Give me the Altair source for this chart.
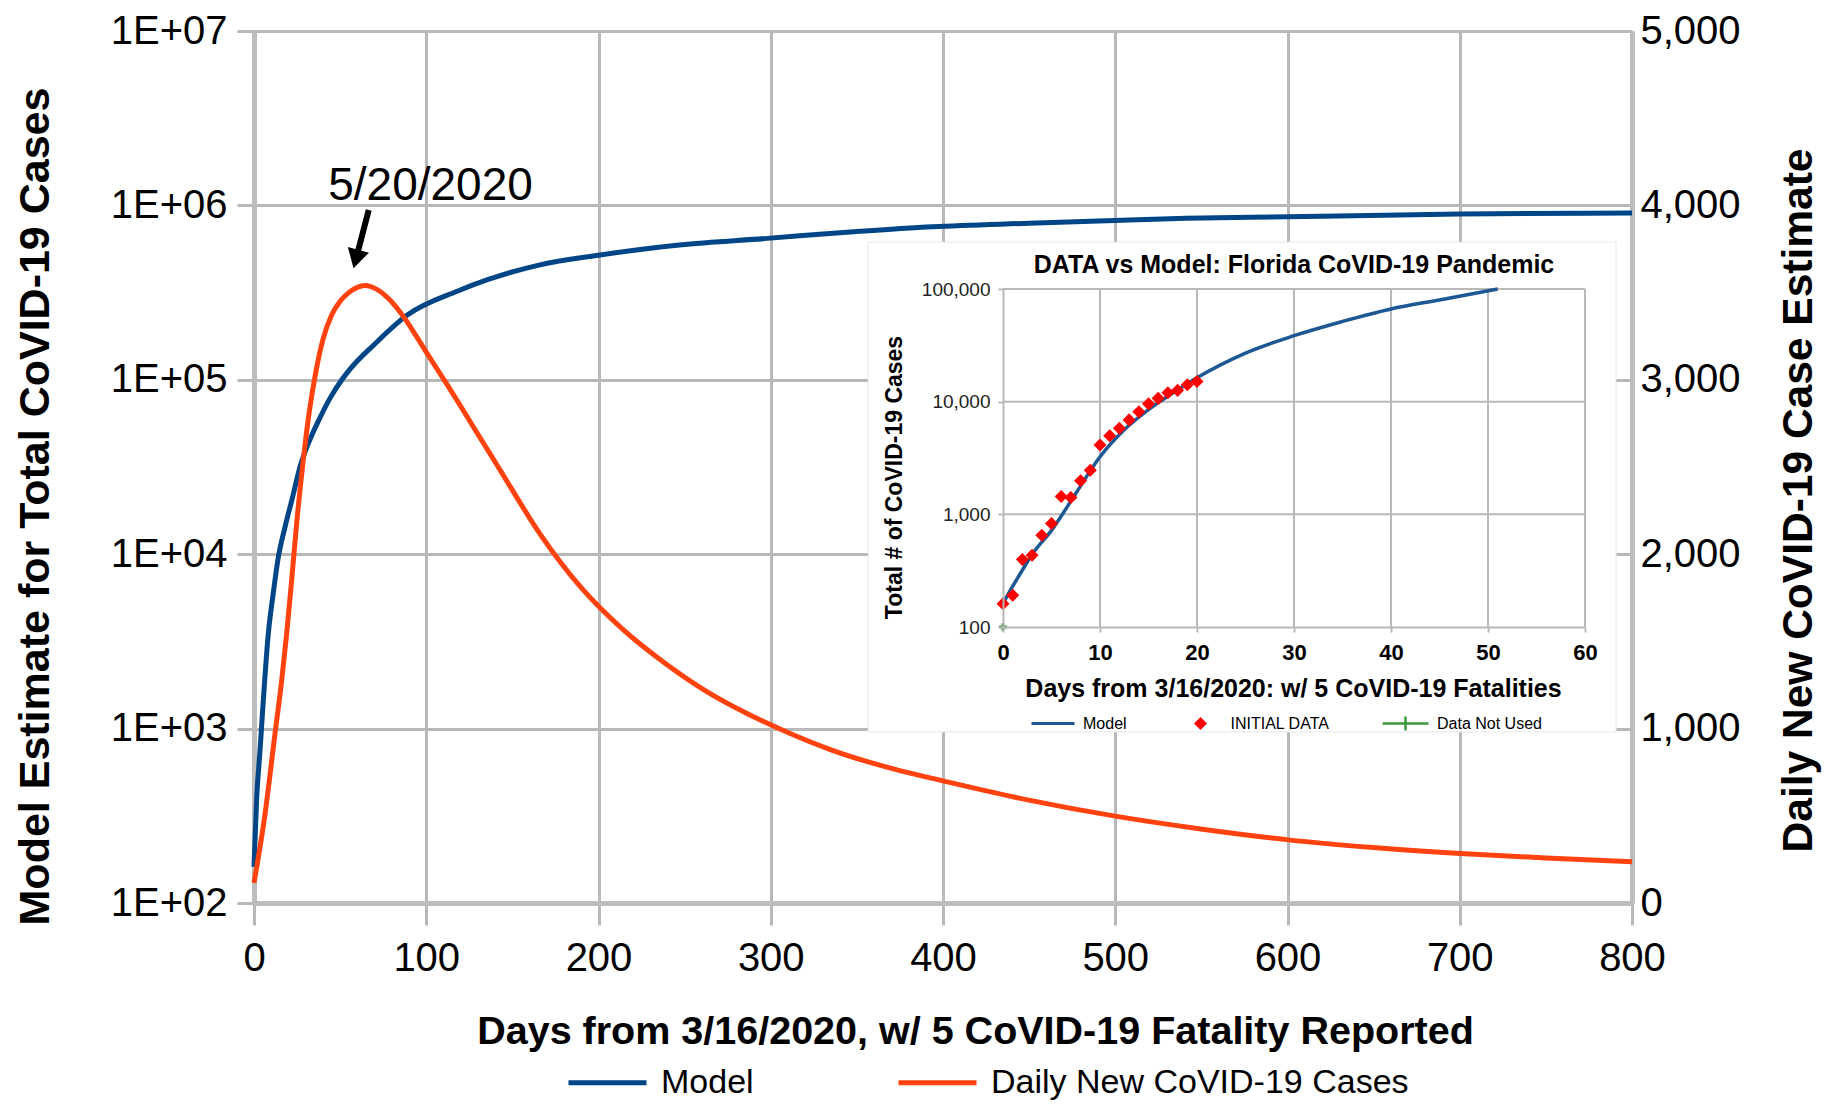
import altair as alt
import pandas as pd

# ---------------- data ----------------
# main chart: model estimate of total cases (left, log axis)
model_days = [0, 1.5, 3.5, 5.4, 8.3, 11.2, 14.1, 18, 22, 26.7, 33.8, 37, 44, 51, 55.4, 70,
              89, 118, 136, 166, 200, 247, 298, 348, 394, 450, 495, 541, 600, 700, 800]
model_cases = [161, 390, 750, 1450, 3500, 6000, 9600, 14300, 20500, 31600, 48700, 57000,
               78000, 100000, 114000, 160000, 235000, 322000, 376000, 456000, 518000,
               593000, 647000, 706000, 755000, 790000, 817000, 843000, 861000, 892000,
               905000]

# main chart: daily new cases (right, linear axis)
daily_days = [0, 6.4, 12.2, 16.1, 19, 21.9, 24.8, 28.6, 32.3, 36, 40, 45, 50, 55, 60, 64.4,
              71, 78.2, 88, 94.2, 101.2, 112.6, 118, 126.4, 142.1, 166.2, 190.2, 214.3,
              238.4, 262.4, 286.5, 310.6, 334.6, 370.7, 400, 449.8, 500, 550.7, 600.5,
              650, 700.5, 750, 800]
daily_cases = [115, 510, 971, 1279, 1548, 1856, 2180, 2540, 2830, 3050, 3230, 3370, 3450,
               3500, 3530, 3540, 3520, 3465, 3345, 3250, 3140, 2965, 2880, 2745, 2495,
               2114, 1805, 1567, 1376, 1215, 1085, 975, 880, 770, 700, 590, 498, 423, 362,
               318, 284, 258, 236]

# inset: model curve and data
inset_model_days = [0, 1, 2, 3, 5, 7.5, 10, 12.5, 15, 17.5, 20, 25, 30, 35, 40, 45, 51]
inset_model_cases = [161, 230, 320, 440, 720, 1530, 3240, 5630, 8500, 11900, 16300,
                     27000, 38500, 51500, 66500, 80000, 100000]
initial_days = list(range(21))
initial_cases = [161, 191, 398, 434, 653, 830, 1440, 1410, 1990, 2460, 4130, 4990, 5810,
                 6890, 8150, 9560, 10700, 12000, 12600, 14100, 15100]
unused_days = [0]
unused_cases = [100]

# tick values
main_x_ticks = [0, 100, 200, 300, 400, 500, 600, 700, 800]
left_ticks = [100, 1000, 10000, 100000, 1000000, 10000000]
right_ticks = [0, 1000, 2000, 3000, 4000, 5000]
inset_x_ticks = [0, 10, 20, 30, 40, 50, 60]
inset_y_ticks = [100, 1000, 10000, 100000]

# ---------------- styling ----------------
SANS = "Liberation Sans, Arial, sans-serif"
BLUE = "#004586"
ORANGE = "#ff420e"
INSET_BLUE = "#1d5894"
GREEN = "#3a9a3a"
GRID = "#b8b8b8"
W, H = 1378, 872

# ---------------- main chart ----------------
x_main = alt.Scale(domain=[0, 800], nice=False, zero=False)
y_left = alt.Scale(type="log", domain=[100, 1e7], nice=False)
y_right = alt.Scale(domain=[0, 5000], nice=False, zero=False)

x_axis = alt.Axis(orient="bottom", values=main_x_ticks, format="d", labelFont=SANS,
                  labelFontSize=40, labelColor="black", labelFlush=False, labelOverlap=False,
                  tickSize=22, tickWidth=3, tickColor=GRID, labelPadding=13,
                  grid=True, gridColor=GRID, gridWidth=3,
                  domainColor="#bdbdbd", domainWidth=5,
                  title="Days from 3/16/2020, w/ 5 CoVID-19 Fatality Reported",
                  titleFont=SANS, titleFontSize=39.5, titleFontWeight="bold",
                  titleColor="black", titleX=721, titleY=128, titleAlign="center",
                  titleBaseline="middle")
left_axis = alt.Axis(orient="left", values=left_ticks,
                     labelExpr="'1E+0' + round(log(datum.value) / LN10)",
                     labelFont=SANS, labelFontSize=40, labelColor="black", labelOverlap=False,
                     tickSize=17, tickWidth=3, tickColor=GRID, labelPadding=10,
                     grid=True, gridColor=GRID, gridWidth=3,
                     domainColor="#bdbdbd", domainWidth=5,
                     title="Model Estimate for Total CoVID-19 Cases",
                     titleFont=SANS, titleFontSize=43, titleFontWeight="bold",
                     titleColor="black", titleX=-219, titleY=475, titleAngle=270,
                     titleAlign="center", titleBaseline="middle")
right_axis = alt.Axis(orient="right", values=right_ticks, format=",.0f",
                      labelFont=SANS, labelFontSize=40, labelColor="black", labelOverlap=False,
                      ticks=False, labelPadding=8, grid=False,
                      domainColor="#bdbdbd", domainWidth=5,
                      title="Daily New CoVID-19 Case Estimate",
                      titleFont=SANS, titleFontSize=42.5, titleFontWeight="bold",
                      titleColor="black", titleX=166, titleY=469, titleAngle=270,
                      titleAlign="center", titleBaseline="middle")

series_domain = ["Model", "Daily New CoVID-19 Cases"]
color_scale = alt.Scale(domain=series_domain, range=[BLUE, ORANGE])
main_legend = alt.Legend(orient="none", legendX=312, legendY=1010, direction="horizontal",
                         title=None, symbolType="stroke", symbolSize=6084,
                         symbolStrokeWidth=5, labelFont=SANS, labelFontSize=34,
                         labelColor="black", labelOffset=12, columnPadding=134,
                         labelLimit=1000, padding=0)

model_df = pd.DataFrame({"day": model_days, "cases": model_cases, "series": "Model"})
daily_df = pd.DataFrame({"day": daily_days, "cases": daily_cases,
                         "series": "Daily New CoVID-19 Cases"})


def mx(field="day:Q"):
    return alt.X(field, scale=x_main, axis=x_axis)


def my(field="cases:Q"):
    return alt.Y(field, scale=y_left, axis=left_axis)


blue = alt.Chart(model_df).mark_line(strokeWidth=5, interpolate="monotone").encode(
    x=mx(), y=my(),
    color=alt.Color("series:N", scale=color_scale, legend=main_legend))

orange = alt.Chart(daily_df).mark_line(strokeWidth=5, interpolate="monotone").encode(
    x=mx(), y=alt.Y("cases:Q", scale=y_right, axis=right_axis),
    color=alt.Color("series:N", scale=color_scale, legend=main_legend))

# annotation: arrow pointing at the peak, with its date
arrow_tail_day, arrow_tail_cases = 66.6, 942000
arrow_head_day, arrow_head_cases = 59.2, 493000
date_day, date_cases = 102.5, 1070000

arrow_df = pd.DataFrame({"day": [arrow_tail_day], "cases": [arrow_tail_cases],
                         "day_end": [arrow_head_day], "cases_end": [arrow_head_cases]})
head_df = pd.DataFrame({"day": [arrow_head_day], "cases": [arrow_head_cases]})
date_df = pd.DataFrame({"day": [date_day], "cases": [date_cases], "label": ["5/20/2020"]})

arrow = alt.Chart(arrow_df).mark_rule(color="black", strokeWidth=6).encode(
    x=mx(), x2="day_end:Q", y=my(), y2="cases_end:Q")
head = alt.Chart(head_df).mark_point(shape="triangle-down", angle=15, size=480, filled=True,
                                     color="black", opacity=1).encode(x=mx(), y=my())
date_text = alt.Chart(date_df).mark_text(font=SANS, fontSize=46, align="center",
                                         baseline="alphabetic", color="black").encode(
    x=mx(), y=my(), text="label:N")

main_left = alt.layer(blue, arrow, head, date_text)
main = alt.layer(main_left, orange).resolve_scale(y="independent")

# ---------------- inset chart ----------------
x_in = alt.Scale(domain=[0, 60], range=[749, 1331], nice=False, zero=False)
y_in = alt.Scale(type="log", domain=[100, 100000], range=[596, 258], nice=False)

inset_x_axis = alt.Axis(orient="bottom", offset=-276, values=inset_x_ticks, format="d",
                        labelFont=SANS, labelFontSize=22, labelFontWeight="bold",
                        labelColor="black", labelFlush=False, labelOverlap=False,
                        tickSize=5, tickWidth=2, tickColor=GRID, labelPadding=10,
                        grid=False, domainColor=GRID, domainWidth=2,
                        title="Days from 3/16/2020: w/ 5 CoVID-19 Fatalities",
                        titleFont=SANS, titleFontSize=25, titleFontWeight="bold",
                        titleColor="black", titleX=1039, titleY=61, titleAlign="center",
                        titleBaseline="middle", zindex=1)
inset_y_axis = alt.Axis(orient="left", offset=-749, values=inset_y_ticks, format=",",
                        labelFont=SANS, labelFontSize=19, labelColor="#222222",
                        labelOverlap=False, tickSize=5, tickWidth=2, tickColor=GRID,
                        labelPadding=8, grid=False, domainColor=GRID, domainWidth=2,
                        title="Total # of CoVID-19 Cases",
                        titleFont=SANS, titleFontSize=23, titleFontWeight="bold",
                        titleColor="black", titleX=-109, titleY=446, titleAngle=270,
                        titleAlign="center", titleBaseline="middle", zindex=1)


def ix(field="day:Q"):
    return alt.X(field, scale=x_in, axis=inset_x_axis)


def iy(field="cases:Q"):
    return alt.Y(field, scale=y_in, axis=inset_y_axis)


# white panel behind the inset (extent in inset units)
panel_df = pd.DataFrame({"day": [-13.9], "day_end": [63.2],
                         "cases": [11.7], "cases_end": [261000]})
panel = alt.Chart(panel_df).mark_rect(fill="white", stroke="#e6e6e6", strokeWidth=1).encode(
    x=ix(), x2="day_end:Q", y=iy(), y2="cases_end:Q")

vgrid_df = pd.DataFrame({"day": inset_x_ticks[1:]})
vgrid_df["cases"] = inset_y_ticks[0]
vgrid_df["cases_end"] = inset_y_ticks[-1]
vgrid = alt.Chart(vgrid_df).mark_rule(color=GRID, strokeWidth=2).encode(
    x=ix(), y=iy(), y2="cases_end:Q")

hgrid_df = pd.DataFrame({"cases": inset_y_ticks[1:]})
hgrid_df["day"] = inset_x_ticks[0]
hgrid_df["day_end"] = inset_x_ticks[-1]
hgrid = alt.Chart(hgrid_df).mark_rule(color=GRID, strokeWidth=2).encode(
    x=ix(), x2="day_end:Q", y=iy())

inset_model_df = pd.DataFrame({"day": inset_model_days, "cases": inset_model_cases,
                               "inset_series": "Model"})
initial_df = pd.DataFrame({"day": initial_days, "cases": initial_cases,
                           "data_series": "INITIAL DATA"})
unused_df = pd.DataFrame({"day": unused_days, "cases": unused_cases,
                          "unused_series": "Data Not Used"})

inset_line = alt.Chart(inset_model_df).mark_line(strokeWidth=3.5, interpolate="monotone").encode(
    x=ix(), y=iy(),
    stroke=alt.Stroke("inset_series:N",
                      scale=alt.Scale(domain=["Model"], range=[INSET_BLUE]),
                      legend=alt.Legend(orient="none", legendX=776, legendY=669.5,
                                        title=None, symbolType="stroke", symbolSize=1849,
                                        symbolStrokeWidth=3, labelFont=SANS,
                                        labelFontSize=16, labelColor="black",
                                        labelOffset=7, padding=0)))

initial_pts = alt.Chart(initial_df).mark_point(filled=True, color="red", size=170,
                                               opacity=1).encode(
    x=ix(), y=iy(),
    shape=alt.Shape("data_series:N",
                    scale=alt.Scale(domain=["INITIAL DATA"], range=["diamond"]),
                    legend=alt.Legend(orient="none", legendX=938.5, legendY=684.5,
                                      title=None, symbolSize=170, symbolFillColor="red",
                                      symbolStrokeColor="red", labelFont=SANS,
                                      labelFontSize=16, labelColor="black",
                                      labelOffset=22, padding=0)))

unused_line = alt.Chart(unused_df).mark_line(color=GREEN, strokeWidth=2.5).encode(
    x=ix(), y=iy(),
    strokeDash=alt.StrokeDash("unused_series:N",
                              scale=alt.Scale(domain=["Data Not Used"], range=[[1, 0]]),
                              legend=alt.Legend(orient="none", legendX=1127, legendY=668,
                                                title=None,
                                                symbolType="M-1,0H1M0,-0.3V0.3",
                                                symbolSize=2116, symbolStrokeWidth=2.5,
                                                symbolStrokeColor=GREEN,
                                                symbolFillColor="transparent",
                                                labelFont=SANS, labelFontSize=16,
                                                labelColor="black", labelOffset=7,
                                                padding=0)))
unused_pt = alt.Chart(unused_df).mark_point(shape="cross", filled=True, color=GREEN,
                                            size=60, opacity=1).encode(x=ix(), y=iy())

inset_title_df = pd.DataFrame({"day": [30], "cases": [163000],
                               "label": ["DATA vs Model: Florida CoVID-19 Pandemic"]})
inset_title = alt.Chart(inset_title_df).mark_text(font=SANS, fontSize=25, fontWeight="bold",
                                                  align="center", baseline="middle",
                                                  color="black").encode(
    x=ix(), y=iy(), text="label:N")

inset = alt.layer(panel, vgrid, hgrid, inset_line, initial_pts, unused_line, unused_pt,
                  inset_title)

# ---------------- combine ----------------
chart = alt.layer(main, inset).resolve_scale(
    x="independent", y="independent"
).properties(
    width=W, height=H,
    autosize=alt.AutoSizeParams(type="none"),
    padding={"left": 246, "top": 23, "right": 195, "bottom": 200},
    background="white",
).configure_view(stroke=None)

chart.save("out.html", embed_options={"renderer": "svg", "actions": False})
